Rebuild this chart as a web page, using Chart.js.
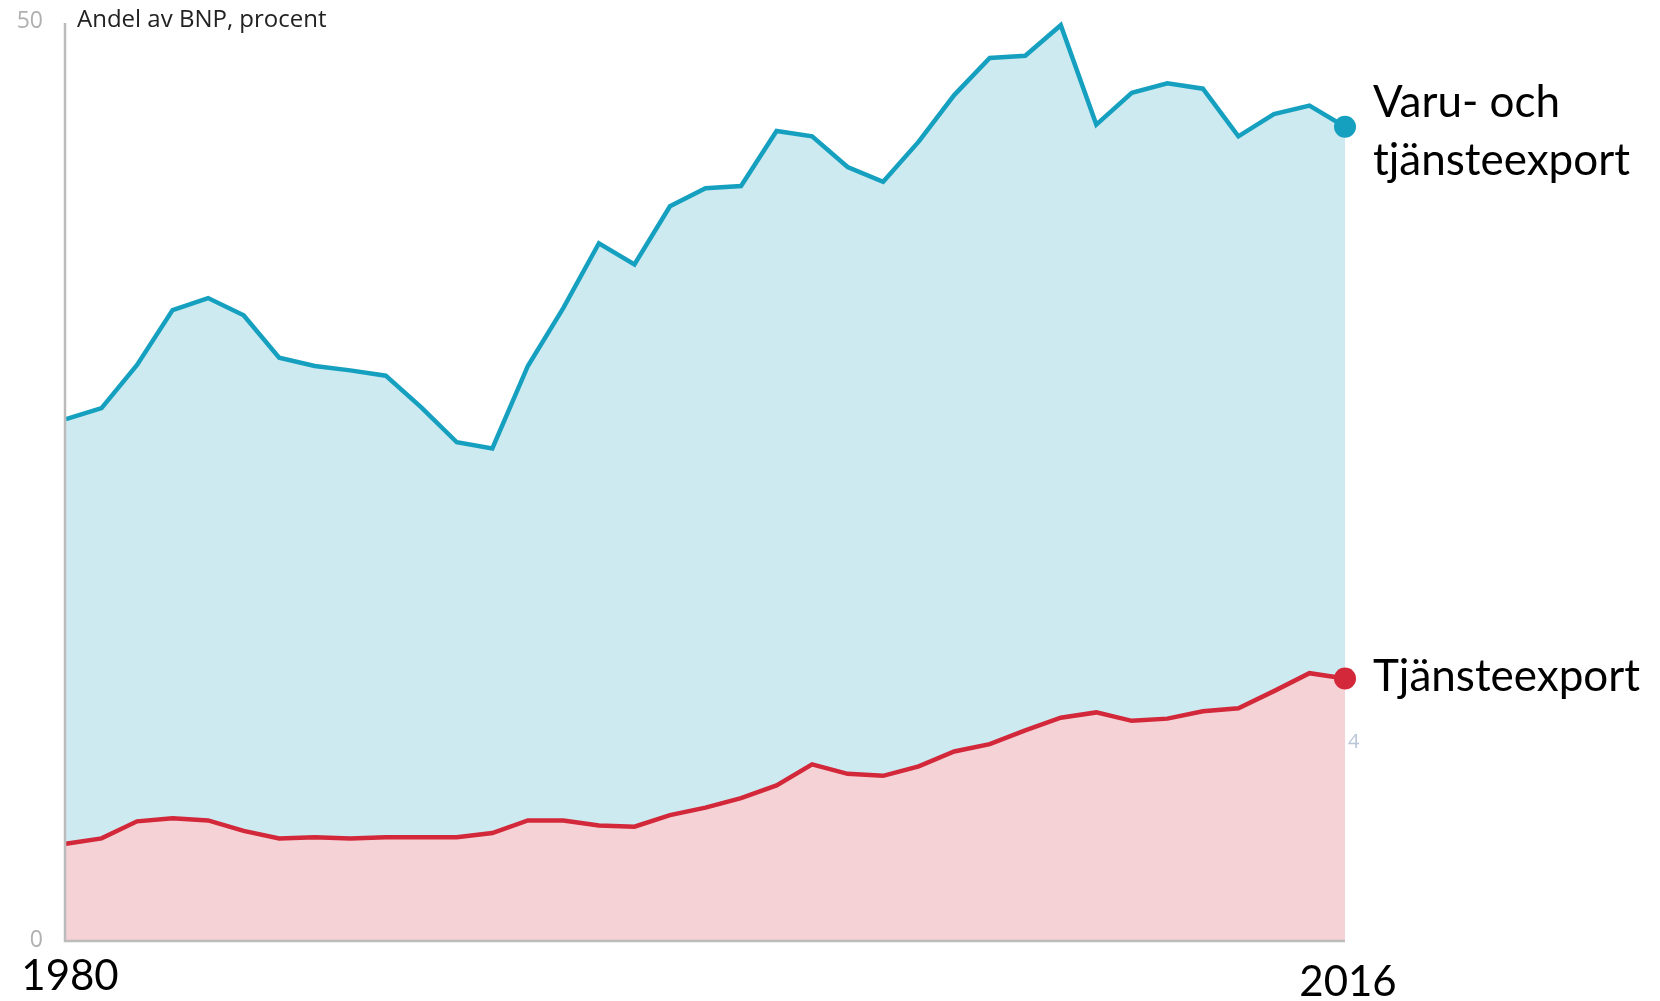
<!DOCTYPE html>
<html>
<head>
<meta charset="utf-8">
<script src="https://cdn.jsdelivr.net/npm/chart.js@4"></script>
<style>
  html, body { margin: 0; padding: 0; background: #fff; }
  #wrap { width: 1660px; height: 1001px; }
</style>
</head>
<body>
<div id="wrap"><canvas id="chart"></canvas></div>
<script>
const years = [];
for (let y = 1980; y <= 2016; y++) years.push(String(y));

// Andel av BNP, procent
const totalExport = [28.4, 29.0, 31.35, 34.35, 35.0, 34.06, 31.75, 31.3, 31.06, 30.77,
  29.04, 27.14, 26.8, 31.3, 34.47, 37.99, 36.84, 40.01, 40.99, 41.11,
  44.11, 43.82, 42.15, 41.34, 43.53, 46.07, 48.09, 48.21, 49.88, 44.46,
  46.19, 46.71, 46.42, 43.82, 45.03, 45.5, 44.34];
const serviceExport = [5.25, 5.54, 6.47, 6.64, 6.52, 5.95, 5.54, 5.6, 5.54, 5.6,
  5.6, 5.6, 5.83, 6.52, 6.52, 6.24, 6.18, 6.81, 7.22, 7.74,
  8.43, 9.58, 9.06, 8.95, 9.47, 10.28, 10.68, 11.43, 12.12, 12.41,
  11.95, 12.07, 12.47, 12.64, 13.57, 14.55, 14.26];
const yTicks = [0, 50];
const lastIdx = years.length - 1;

const decorations = {
  id: "decorations",
  afterDatasetsDraw(chart) {
    const { ctx, chartArea, scales } = chart;
    const x = scales.x, y = scales.y;
    ctx.save();

    // axis lines
    ctx.strokeStyle = "#bbbbbb";
    ctx.lineWidth = 2.5;
    ctx.beginPath();
    ctx.moveTo(chartArea.left - 1, chartArea.top);
    ctx.lineTo(chartArea.left - 1, chartArea.bottom + 1);
    ctx.lineTo(chartArea.right, chartArea.bottom + 1);
    ctx.stroke();

    // y tick labels
    ctx.fillStyle = "#b0b0b0";
    ctx.font = "23px 'Open Sans'";
    ctx.textAlign = "right";
    ctx.textBaseline = "middle";
    yTicks.forEach(t => ctx.fillText(String(t), 43, y.getPixelForValue(t) - (t === 0 ? 0 : 2)));

    // unit label
    ctx.fillStyle = "#222";
    ctx.font = "24px 'Open Sans'";
    ctx.textAlign = "left";
    ctx.fillText("Andel av BNP, procent", 77, 20);

    // year labels
    ctx.fillStyle = "#000";
    ctx.font = "42px Lato";
    ctx.textAlign = "center";
    ctx.fillText(years[0], x.getPixelForValue(0) + 4, 976);
    ctx.fillText(years[lastIdx], x.getPixelForValue(lastIdx) + 3, 982);

    // series labels
    ctx.font = "44px Lato";
    const xr = x.getPixelForValue(lastIdx) + 28;
    ctx.textAlign = "left";
    const yt = y.getPixelForValue(totalExport[lastIdx]);
    ctx.fillText("Varu- och", xr, yt - 24);
    ctx.fillText("tjänsteexport", xr, yt + 34);
    const ys = y.getPixelForValue(serviceExport[lastIdx]);
    ctx.fillText("Tjänsteexport", xr, ys - 2);

    // stray tick fragment
    ctx.fillStyle = "#b9c4d6";
    ctx.font = "20px 'Open Sans'";
    ctx.fillText("4", x.getPixelForValue(lastIdx) + 3, y.getPixelForValue(10.8));
    ctx.restore();
  }
};

new Chart(document.getElementById("chart"), {
  type: "line",
  data: {
    labels: years,
    datasets: [
      {
        label: "Tjänsteexport",
        data: serviceExport,
        borderColor: "#d2283a",
        backgroundColor: "#f5d2d5",
        borderWidth: 4.5,
        fill: "origin",
        tension: 0,
        pointRadius: c => c.dataIndex === lastIdx ? 11 : 0,
        pointBackgroundColor: "#d2283a",
        pointBorderWidth: 0
      },
      {
        label: "Varu- och tjänsteexport",
        data: totalExport,
        borderColor: "#16a0c0",
        backgroundColor: "#cdeaf0",
        borderWidth: 4.5,
        fill: "-1",
        tension: 0,
        pointRadius: c => c.dataIndex === lastIdx ? 11 : 0,
        pointBackgroundColor: "#16a0c0",
        pointBorderWidth: 0
      }
    ]
  },
  options: {
    responsive: true,
    maintainAspectRatio: false,
    animation: false,
    clip: false,
    layout: { padding: { left: 66, right: 315, top: 23, bottom: 61 } },
    plugins: { legend: { display: false }, tooltip: { enabled: false } },
    scales: {
      x: { display: false, offset: false },
      y: { display: false, min: 0, max: 50 }
    }
  },
  plugins: [decorations]
});
</script>
</body>
</html>
